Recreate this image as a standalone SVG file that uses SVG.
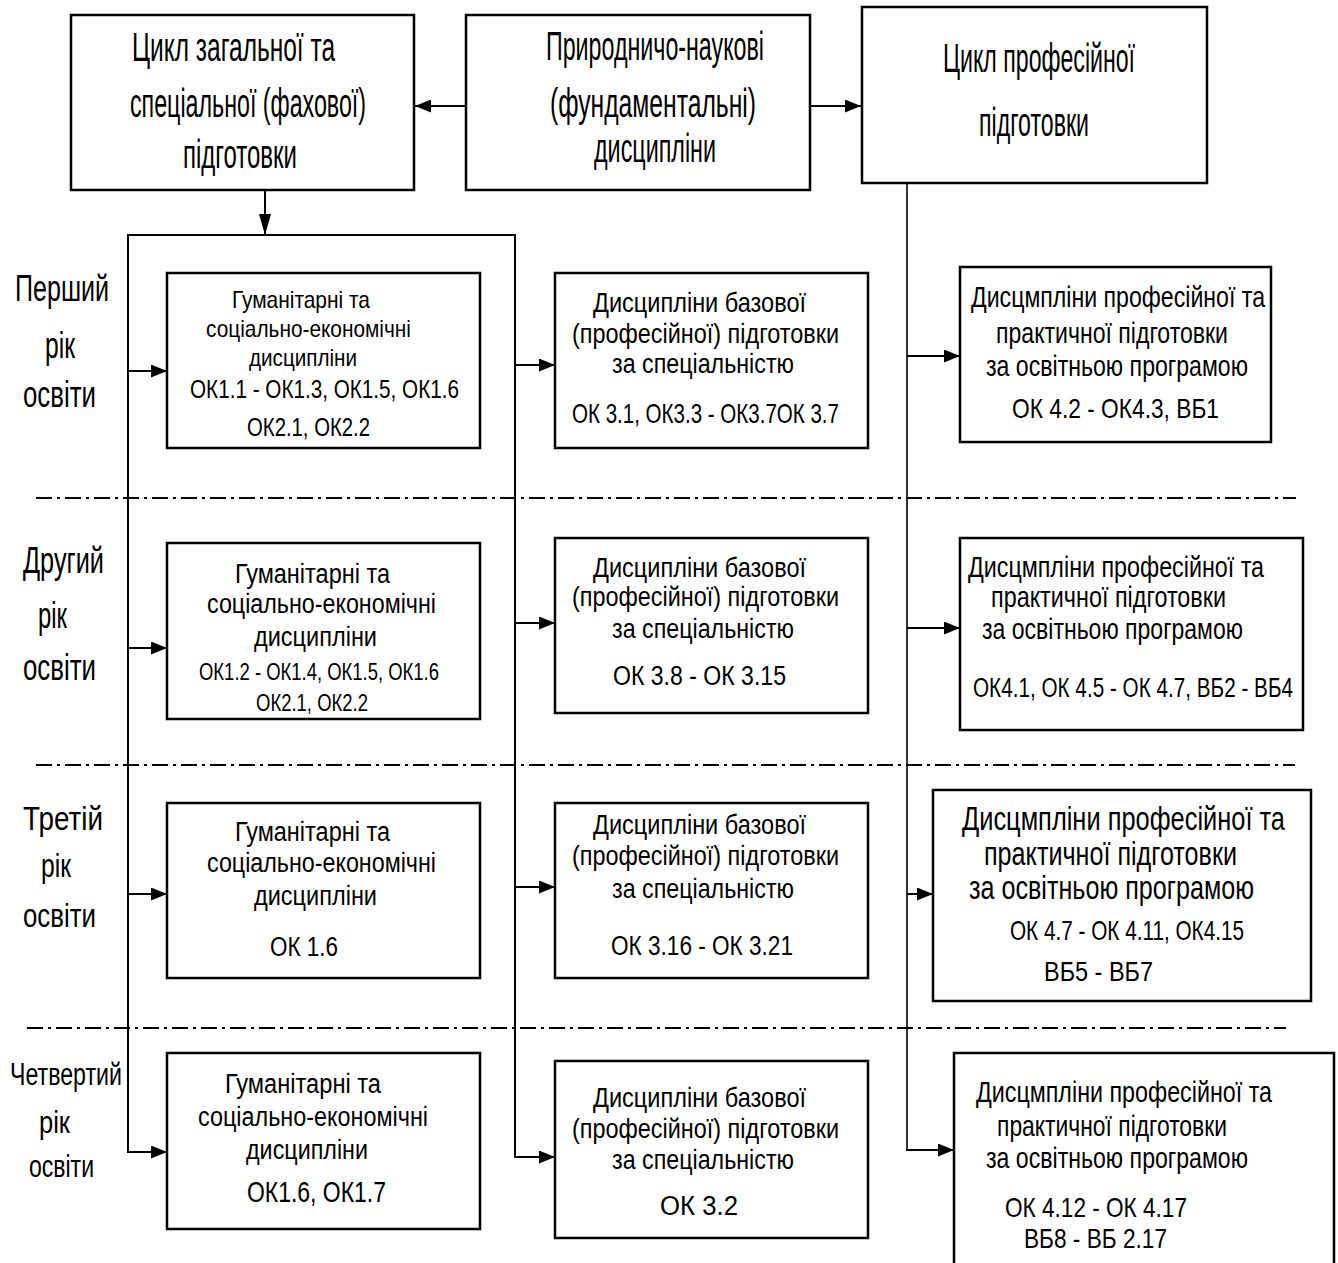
<svg xmlns="http://www.w3.org/2000/svg" width="1338" height="1263" viewBox="0 0 1338 1263">
<style>
.box{fill:#fff;stroke:#000;stroke-width:2.5}
.t{font-family:"Liberation Sans",Arial,sans-serif;fill:#000}
.c{fill:none;stroke:#000;stroke-width:2}
.thin{fill:none;stroke:#000;stroke-width:1.6}
.dd{fill:none;stroke:#000;stroke-width:2.2;stroke-dasharray:16 5 3 5}
</style>
<defs>
<marker id="ah" markerUnits="userSpaceOnUse" markerWidth="16" markerHeight="13" refX="16" refY="6.5" orient="auto">
<path d="M0,0 L16,6.5 L0,13 Z" fill="#000"/>
</marker>
<marker id="ahv" markerUnits="userSpaceOnUse" markerWidth="21" markerHeight="12" refX="21" refY="6" orient="auto">
<path d="M0,0 L21,6 L0,12 Z" fill="#000"/>
</marker>
</defs>
<rect width="1338" height="1263" fill="#fff"/>

<g id="separators">
<line class="dd" x1="36" y1="498" x2="1296" y2="498"/>
<line class="dd" x1="36" y1="765" x2="1295" y2="765"/>
<line class="dd" x1="27" y1="1028" x2="1286" y2="1028"/>
</g>

<g id="connectors">
<line class="c" x1="466" y1="106" x2="415" y2="106" marker-end="url(#ah)"/>
<line class="c" x1="810" y1="106" x2="861" y2="106" marker-end="url(#ah)"/>
<line class="c" x1="265" y1="190" x2="265" y2="235" marker-end="url(#ahv)"/>
<polyline class="c" points="128,1152 128,235 515,235 515,1157"/>
<line class="c" x1="128" y1="371" x2="167" y2="371" marker-end="url(#ah)"/>
<line class="c" x1="128" y1="648" x2="167" y2="648" marker-end="url(#ah)"/>
<line class="c" x1="128" y1="894" x2="167" y2="894" marker-end="url(#ah)"/>
<line class="c" x1="127" y1="1152" x2="167" y2="1152" marker-end="url(#ah)"/>
<line class="c" x1="515" y1="365" x2="555" y2="365" marker-end="url(#ah)"/>
<line class="c" x1="515" y1="623" x2="555" y2="623" marker-end="url(#ah)"/>
<line class="c" x1="515" y1="887" x2="555" y2="887" marker-end="url(#ah)"/>
<line class="c" x1="514" y1="1157" x2="555" y2="1157" marker-end="url(#ah)"/>
<line class="thin" x1="907" y1="183" x2="907" y2="1151"/>
<line class="c" x1="907" y1="356" x2="960" y2="356" marker-end="url(#ah)"/>
<line class="c" x1="907" y1="628" x2="960" y2="628" marker-end="url(#ah)"/>
<line class="c" x1="907" y1="894" x2="933" y2="894" marker-end="url(#ah)"/>
<line class="c" x1="906" y1="1150" x2="954" y2="1150" marker-end="url(#ah)"/>
</g>

<g id="boxA">
<rect class="box" x="71" y="15" width="343" height="175"/>
<text class="t" font-size="40" x="132" y="61" textLength="203" lengthAdjust="spacingAndGlyphs">Цикл загальної та</text>
<text class="t" font-size="40" x="130" y="117" textLength="236" lengthAdjust="spacingAndGlyphs">спеціальної (фахової)</text>
<text class="t" font-size="40" x="183" y="168" textLength="114" lengthAdjust="spacingAndGlyphs">підготовки</text>
</g>
<g id="boxB">
<rect class="box" x="466" y="15" width="344" height="175"/>
<text class="t" font-size="40" x="546" y="60" textLength="218" lengthAdjust="spacingAndGlyphs">Природничо-наукові</text>
<text class="t" font-size="40" x="550" y="117" textLength="206" lengthAdjust="spacingAndGlyphs">(фундаментальні)</text>
<text class="t" font-size="40" x="594" y="162" textLength="122" lengthAdjust="spacingAndGlyphs">дисципліни</text>
</g>
<g id="boxC">
<rect class="box" x="862" y="7" width="345" height="176"/>
<text class="t" font-size="40" x="943" y="72" textLength="192" lengthAdjust="spacingAndGlyphs">Цикл професійної</text>
<text class="t" font-size="40" x="979" y="136" textLength="110" lengthAdjust="spacingAndGlyphs">підготовки</text>
</g>

<g id="year-labels">
<text class="t" font-size="36" x="15" y="301" textLength="94" lengthAdjust="spacingAndGlyphs">Перший</text>
<text class="t" font-size="36" x="45" y="358" textLength="30" lengthAdjust="spacingAndGlyphs">рік</text>
<text class="t" font-size="36" x="23" y="407" textLength="73" lengthAdjust="spacingAndGlyphs">освіти</text>
<text class="t" font-size="36" x="23" y="573" textLength="81" lengthAdjust="spacingAndGlyphs">Другий</text>
<text class="t" font-size="36" x="38" y="628" textLength="29" lengthAdjust="spacingAndGlyphs">рік</text>
<text class="t" font-size="36" x="23" y="680" textLength="73" lengthAdjust="spacingAndGlyphs">освіти</text>
<text class="t" font-size="34" x="23" y="830" textLength="80" lengthAdjust="spacingAndGlyphs">Третій</text>
<text class="t" font-size="34" x="41" y="877" textLength="30" lengthAdjust="spacingAndGlyphs">рік</text>
<text class="t" font-size="34" x="23" y="927" textLength="73" lengthAdjust="spacingAndGlyphs">освіти</text>
<text class="t" font-size="31" x="10" y="1085" textLength="112" lengthAdjust="spacingAndGlyphs">Четвертий</text>
<text class="t" font-size="31" x="39" y="1133" textLength="31" lengthAdjust="spacingAndGlyphs">рік</text>
<text class="t" font-size="31" x="29" y="1177" textLength="65" lengthAdjust="spacingAndGlyphs">освіти</text>
</g>

<g id="G1">
<rect class="box" x="167" y="273" width="313" height="175"/>
<text class="t" font-size="24" x="232" y="308" textLength="138" lengthAdjust="spacingAndGlyphs">Гуманітарні та</text>
<text class="t" font-size="24" x="206" y="337" textLength="205" lengthAdjust="spacingAndGlyphs">соціально-економічні</text>
<text class="t" font-size="24" x="249" y="366" textLength="108" lengthAdjust="spacingAndGlyphs">дисципліни</text>
<text class="t" font-size="25" x="190" y="398" textLength="269" lengthAdjust="spacingAndGlyphs">ОК1.1 - ОК1.3, ОК1.5, ОК1.6</text>
<text class="t" font-size="25" x="247" y="436" textLength="123" lengthAdjust="spacingAndGlyphs">ОК2.1, ОК2.2</text>
</g>
<g id="G2">
<rect class="box" x="167" y="543" width="313" height="176"/>
<text class="t" font-size="27" x="235" y="583" textLength="155" lengthAdjust="spacingAndGlyphs">Гуманітарні та</text>
<text class="t" font-size="27" x="207" y="613" textLength="229" lengthAdjust="spacingAndGlyphs">соціально-економічні</text>
<text class="t" font-size="27" x="254" y="646" textLength="123" lengthAdjust="spacingAndGlyphs">дисципліни</text>
<text class="t" font-size="23" x="199" y="680" textLength="240" lengthAdjust="spacingAndGlyphs">ОК1.2 - ОК1.4, ОК1.5, ОК1.6</text>
<text class="t" font-size="23" x="256" y="711" textLength="112" lengthAdjust="spacingAndGlyphs">ОК2.1, ОК2.2</text>
</g>
<g id="G3">
<rect class="box" x="167" y="803" width="313" height="175"/>
<text class="t" font-size="27" x="235" y="841" textLength="155" lengthAdjust="spacingAndGlyphs">Гуманітарні та</text>
<text class="t" font-size="27" x="207" y="872" textLength="229" lengthAdjust="spacingAndGlyphs">соціально-економічні</text>
<text class="t" font-size="27" x="254" y="905" textLength="123" lengthAdjust="spacingAndGlyphs">дисципліни</text>
<text class="t" font-size="27" x="270" y="956" textLength="68" lengthAdjust="spacingAndGlyphs">ОК 1.6</text>
</g>
<g id="G4">
<rect class="box" x="167" y="1053" width="313" height="176"/>
<text class="t" font-size="27" x="225" y="1093" textLength="156" lengthAdjust="spacingAndGlyphs">Гуманітарні та</text>
<text class="t" font-size="27" x="198" y="1126" textLength="230" lengthAdjust="spacingAndGlyphs">соціально-економічні</text>
<text class="t" font-size="27" x="246" y="1159" textLength="122" lengthAdjust="spacingAndGlyphs">дисципліни</text>
<text class="t" font-size="30" x="247" y="1202" textLength="139" lengthAdjust="spacingAndGlyphs">ОК1.6, ОК1.7</text>
</g>

<g id="D1">
<rect class="box" x="555" y="273" width="313" height="175"/>
<text class="t" font-size="28" x="593" y="312" textLength="213" lengthAdjust="spacingAndGlyphs">Дисципліни базової</text>
<text class="t" font-size="28" x="572" y="343" textLength="267" lengthAdjust="spacingAndGlyphs">(професійної) підготовки</text>
<text class="t" font-size="28" x="612" y="373" textLength="182" lengthAdjust="spacingAndGlyphs">за спеціальністю</text>
<text class="t" font-size="28" x="572" y="423" textLength="267" lengthAdjust="spacingAndGlyphs">ОК 3.1, ОК3.3 - ОК3.7ОК 3.7</text>
</g>
<g id="D2">
<rect class="box" x="555" y="538" width="313" height="175"/>
<text class="t" font-size="28" x="593" y="577" textLength="213" lengthAdjust="spacingAndGlyphs">Дисципліни базової</text>
<text class="t" font-size="28" x="572" y="606" textLength="267" lengthAdjust="spacingAndGlyphs">(професійної) підготовки</text>
<text class="t" font-size="28" x="612" y="638" textLength="182" lengthAdjust="spacingAndGlyphs">за спеціальністю</text>
<text class="t" font-size="27" x="613" y="685" textLength="173" lengthAdjust="spacingAndGlyphs">ОК 3.8 - ОК 3.15</text>
</g>
<g id="D3">
<rect class="box" x="555" y="803" width="313" height="175"/>
<text class="t" font-size="28" x="593" y="834" textLength="213" lengthAdjust="spacingAndGlyphs">Дисципліни базової</text>
<text class="t" font-size="28" x="572" y="865" textLength="267" lengthAdjust="spacingAndGlyphs">(професійної) підготовки</text>
<text class="t" font-size="28" x="612" y="898" textLength="182" lengthAdjust="spacingAndGlyphs">за спеціальністю</text>
<text class="t" font-size="27" x="611" y="955" textLength="182" lengthAdjust="spacingAndGlyphs">ОК 3.16 - ОК 3.21</text>
</g>
<g id="D4">
<rect class="box" x="555" y="1061" width="313" height="177"/>
<text class="t" font-size="28" x="593" y="1107" textLength="213" lengthAdjust="spacingAndGlyphs">Дисципліни базової</text>
<text class="t" font-size="28" x="572" y="1138" textLength="267" lengthAdjust="spacingAndGlyphs">(професійної) підготовки</text>
<text class="t" font-size="28" x="612" y="1169" textLength="182" lengthAdjust="spacingAndGlyphs">за спеціальністю</text>
<text class="t" font-size="27" x="660" y="1215" textLength="78" lengthAdjust="spacingAndGlyphs">ОК 3.2</text>
</g>

<g id="P1">
<rect class="box" x="960" y="267" width="311" height="175"/>
<text class="t" font-size="30" x="971" y="307" textLength="294" lengthAdjust="spacingAndGlyphs">Дисцмпліни професійної та</text>
<text class="t" font-size="30" x="996" y="343" textLength="232" lengthAdjust="spacingAndGlyphs">практичної підготовки</text>
<text class="t" font-size="30" x="986" y="376" textLength="262" lengthAdjust="spacingAndGlyphs">за освітньою програмою</text>
<text class="t" font-size="28" x="1012" y="418" textLength="207" lengthAdjust="spacingAndGlyphs">ОК 4.2 - ОК4.3, ВБ1</text>
</g>
<g id="P2">
<rect class="box" x="960" y="538" width="343" height="192"/>
<text class="t" font-size="30" x="968" y="577" textLength="296" lengthAdjust="spacingAndGlyphs">Дисцмпліни професійної та</text>
<text class="t" font-size="30" x="991" y="607" textLength="235" lengthAdjust="spacingAndGlyphs">практичної підготовки</text>
<text class="t" font-size="30" x="982" y="639" textLength="261" lengthAdjust="spacingAndGlyphs">за освітньою програмою</text>
<text class="t" font-size="27" x="973" y="697" textLength="320" lengthAdjust="spacingAndGlyphs">ОК4.1, ОК 4.5 - ОК 4.7, ВБ2 - ВБ4</text>
</g>
<g id="P3">
<rect class="box" x="933" y="790" width="378" height="211"/>
<text class="t" font-size="33" x="962" y="830" textLength="323" lengthAdjust="spacingAndGlyphs">Дисцмпліни професійної та</text>
<text class="t" font-size="33" x="984" y="865" textLength="253" lengthAdjust="spacingAndGlyphs">практичної підготовки</text>
<text class="t" font-size="33" x="969" y="899" textLength="285" lengthAdjust="spacingAndGlyphs">за освітньою програмою</text>
<text class="t" font-size="28" x="1010" y="940" textLength="234" lengthAdjust="spacingAndGlyphs">ОК 4.7 - ОК 4.11, ОК4.15</text>
<text class="t" font-size="28" x="1044" y="981" textLength="109" lengthAdjust="spacingAndGlyphs">ВБ5 - ВБ7</text>
</g>
<g id="P4">
<rect class="box" x="954" y="1053" width="380" height="220"/>
<text class="t" font-size="30" x="976" y="1102" textLength="296" lengthAdjust="spacingAndGlyphs">Дисцмпліни професійної та</text>
<text class="t" font-size="30" x="997" y="1136" textLength="230" lengthAdjust="spacingAndGlyphs">практичної підготовки</text>
<text class="t" font-size="30" x="986" y="1168" textLength="262" lengthAdjust="spacingAndGlyphs">за освітньою програмою</text>
<text class="t" font-size="28" x="1005" y="1217" textLength="182" lengthAdjust="spacingAndGlyphs">ОК 4.12 - ОК 4.17</text>
<text class="t" font-size="28" x="1024" y="1248" textLength="143" lengthAdjust="spacingAndGlyphs">ВБ8 - ВБ 2.17</text>
</g>
</svg>
